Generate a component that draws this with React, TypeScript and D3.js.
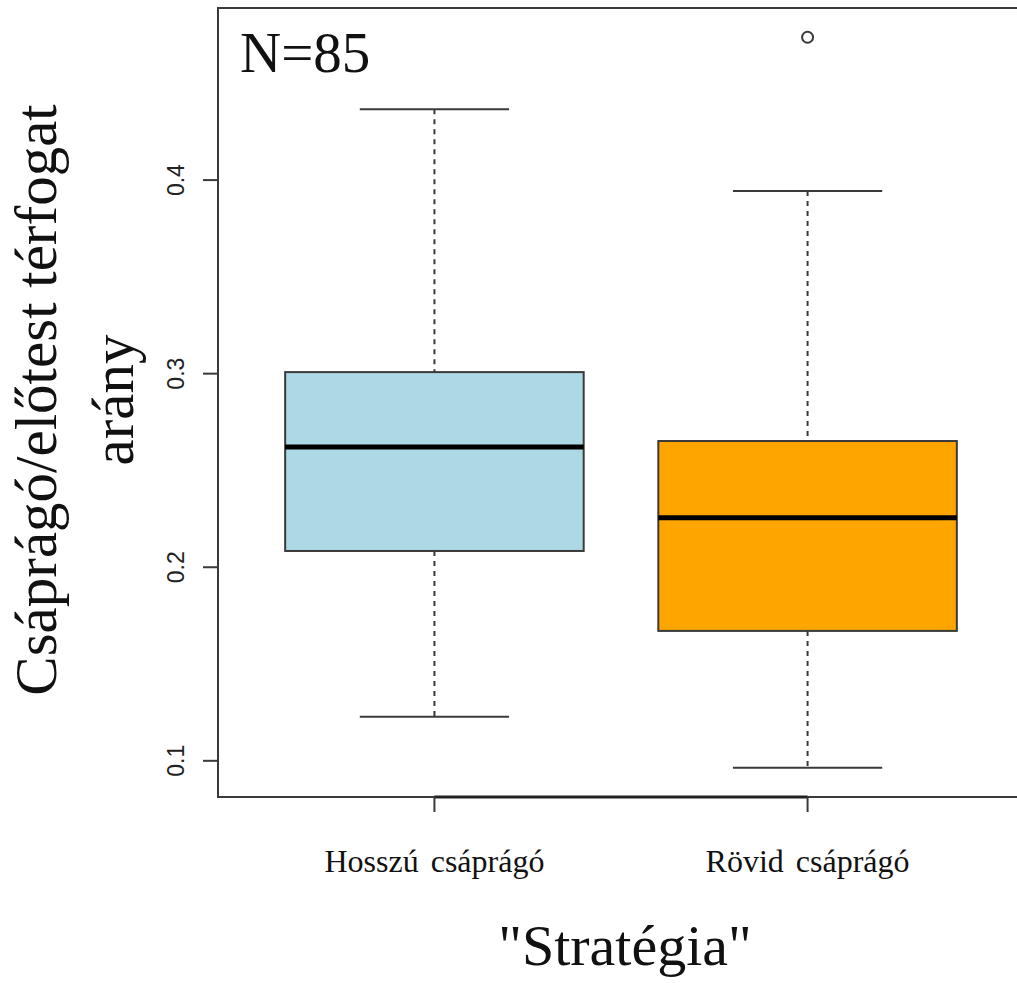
import React, { useEffect, useRef } from "react";
import * as d3 from "d3";

// groups and their box statistics
const groups = ["Hosszú csáprágó", "Rövid csáprágó"];
const fills = ["#add8e6", "#ffa500"];
const lowerWhisker = [0.1227, 0.0964];
const q1 = [0.2084, 0.1671];
const median = [0.2621, 0.2255];
const q3 = [0.3008, 0.2652];
const upperWhisker = [0.4366, 0.3943];
const outliers = [[], [0.4738]];
const yTicks = [0.1, 0.2, 0.3, 0.4];

export default function App() {
  const ref = useRef<SVGSVGElement | null>(null);

  useEffect(() => {
    drawChart();
  }, []);

  function drawChart() {
    const svg = d3.select(ref.current);
    svg.selectAll("*").remove();

    const left = 218, right = 1024, top = 8, bottom = 797;

    // R style: data range + 4% on each side
    const allVals = [...lowerWhisker, ...upperWhisker, ...outliers.flat()];
    const lo = d3.min(allVals) as number, hi = d3.max(allVals) as number;
    const pad = (hi - lo) * 0.04;
    const y = d3.scaleLinear().domain([lo - pad, hi + pad]).range([bottom, top]);
    const x = d3.scaleLinear().domain([0.42, groups.length + 0.58]).range([left, right]);

    const lineCol = "#3a3a3a";
    const boxHalf = 0.4, capHalf = 0.2;

    groups.forEach((g, i) => {
      const cx = x(i + 1);
      // whiskers
      svg.append("line")
        .attr("x1", cx).attr("x2", cx)
        .attr("y1", y(upperWhisker[i])).attr("y2", y(q3[i]))
        .attr("stroke", lineCol).attr("stroke-width", 2).attr("stroke-dasharray", "5,5");
      svg.append("line")
        .attr("x1", cx).attr("x2", cx)
        .attr("y1", y(q1[i])).attr("y2", y(lowerWhisker[i]))
        .attr("stroke", lineCol).attr("stroke-width", 2).attr("stroke-dasharray", "5,5");
      [upperWhisker[i], lowerWhisker[i]].forEach((v) => {
        svg.append("line")
          .attr("x1", x(i + 1 - capHalf)).attr("x2", x(i + 1 + capHalf))
          .attr("y1", y(v)).attr("y2", y(v))
          .attr("stroke", lineCol).attr("stroke-width", 2);
      });
      // box
      svg.append("rect")
        .attr("x", x(i + 1 - boxHalf))
        .attr("y", y(q3[i]))
        .attr("width", x(i + 1 + boxHalf) - x(i + 1 - boxHalf))
        .attr("height", y(q1[i]) - y(q3[i]))
        .attr("fill", fills[i])
        .attr("stroke", lineCol).attr("stroke-width", 2);
      svg.append("line")
        .attr("x1", x(i + 1 - boxHalf)).attr("x2", x(i + 1 + boxHalf))
        .attr("y1", y(median[i])).attr("y2", y(median[i]))
        .attr("stroke", "#000").attr("stroke-width", 5);
      // outliers
      outliers[i].forEach((v) => {
        svg.append("circle")
          .attr("cx", cx).attr("cy", y(v)).attr("r", 5.5)
          .attr("fill", "none").attr("stroke", lineCol).attr("stroke-width", 2);
      });
    });

    // plot frame (the right side falls outside the picture)
    svg.append("path")
      .attr("d", `M${right},${top}H${left}V${bottom}H${right}`)
      .attr("fill", "none").attr("stroke", lineCol).attr("stroke-width", 2);

    // y axis
    svg.append("line")
      .attr("x1", left).attr("x2", left)
      .attr("y1", y(yTicks[0])).attr("y2", y(yTicks[yTicks.length - 1]))
      .attr("stroke", lineCol).attr("stroke-width", 2);
    yTicks.forEach((t) => {
      svg.append("line")
        .attr("x1", left - 15).attr("x2", left)
        .attr("y1", y(t)).attr("y2", y(t))
        .attr("stroke", lineCol).attr("stroke-width", 2);
      svg.append("text")
        .attr("transform", `translate(184,${y(t)}) rotate(-90)`)
        .attr("text-anchor", "middle")
        .attr("font-family", "Liberation Sans, Arial, sans-serif")
        .attr("font-size", 23)
        .attr("fill", "#222")
        .text(d3.format(".1f")(t));
    });

    // x axis
    svg.append("line")
      .attr("x1", x(1)).attr("x2", x(groups.length))
      .attr("y1", bottom).attr("y2", bottom)
      .attr("stroke", "#222").attr("stroke-width", 3);
    groups.forEach((g, i) => {
      svg.append("line")
        .attr("x1", x(i + 1)).attr("x2", x(i + 1))
        .attr("y1", bottom).attr("y2", bottom + 15)
        .attr("stroke", lineCol).attr("stroke-width", 2);
      svg.append("text")
        .attr("x", x(i + 1)).attr("y", 872)
        .attr("text-anchor", "middle")
        .attr("font-family", "Liberation Serif, Times New Roman, serif")
        .attr("font-size", 32)
        .attr("word-spacing", 4)
        .attr("fill", "#111")
        .text(g);
    });

    // titles
    const serif = "Liberation Serif, Times New Roman, serif";
    svg.append("text")
      .attr("x", 625).attr("y", 965)
      .attr("text-anchor", "middle")
      .attr("font-family", serif).attr("font-size", 58).attr("fill", "#111")
      .text('"Stratégia"');
    const yTitle = svg.append("text")
      .attr("transform", "translate(0,400) rotate(-90)")
      .attr("text-anchor", "middle")
      .attr("font-family", serif).attr("font-size", 59).attr("fill", "#111");
    yTitle.append("tspan").attr("x", 0).attr("y", 56).text("Csáprágó/előtest térfogat");
    yTitle.append("tspan").attr("x", 0).attr("y", 133).text("arány");

    svg.append("text")
      .attr("x", 240).attr("y", 72)
      .attr("font-family", serif).attr("font-size", 57).attr("fill", "#111")
      .text("N=85");
  }

  return (
    <svg
      ref={ref}
      width={1017}
      height={983}
      style={{ position: "absolute", left: 0, top: 0, background: "#fff" }}
    />
  );
}
